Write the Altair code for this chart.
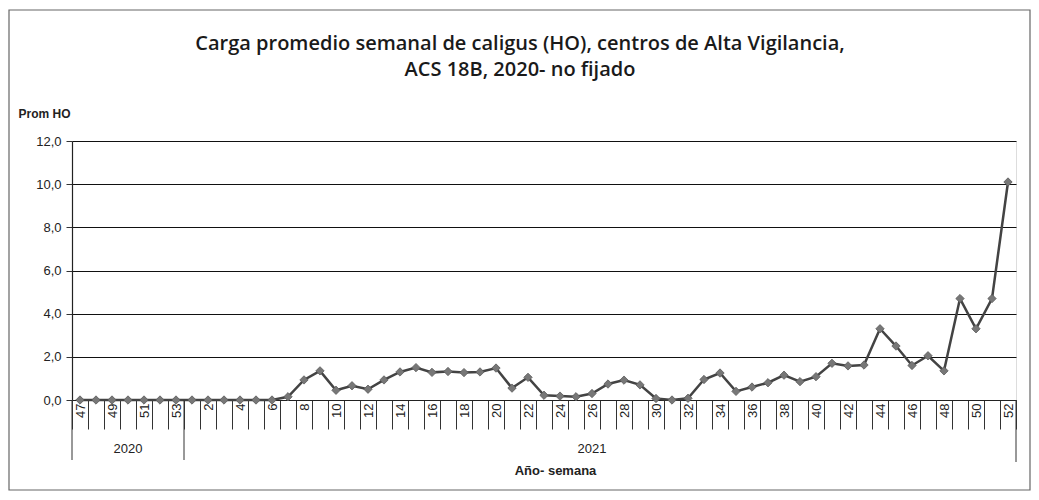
import altair as alt
import pandas as pd

years = ["2020"] * 7 + ["2021"] * 52
weeks = [47, 48, 49, 50, 51, 52, 53] + list(range(1, 53))
values = [
    0, 0, 0, 0, 0, 0, 0,                      # 2020 w47-53
    0, 0, 0, 0, 0, 0, 0.15, 0.93, 1.35, 0.45,  # 2021 w1-10
    0.66, 0.5, 0.93, 1.3, 1.5, 1.28, 1.32, 1.27, 1.3, 1.48,   # w11-20
    0.55, 1.05, 0.22, 0.18, 0.15, 0.3, 0.74, 0.92, 0.7, 0.07,  # w21-30
    0.0, 0.08, 0.95, 1.25, 0.4, 0.6, 0.8, 1.15, 0.85, 1.08,    # w31-40
    1.7, 1.58, 1.62, 3.3, 2.5, 1.6, 2.05, 1.35, 4.7, 3.3,      # w41-50
    4.7, 10.1,                                                  # w51-52
]
year_labels = ["2020", "2021"]
year_label_keys = ["2020-50", "2021-26"]
boundary_keys = ["2020-47", "2021-1"]
end_key = ["2021-52"]

keys = [f"{y}-{w}" for y, w in zip(years, weeks)]
df = pd.DataFrame({"key": keys, "year": years, "week": weeks, "value": values})

W, H = 944, 259
FONT = "Liberation Sans"

label_expr = (
    "(split(datum.value,'-')[0]=='2020' ? toNumber(split(datum.value,'-')[1]) % 2 == 1 "
    ": toNumber(split(datum.value,'-')[1]) % 2 == 0) ? split(datum.value,'-')[1] : ''"
)

xscale = alt.Scale(domain=keys, paddingInner=0, paddingOuter=0)
x_axis = alt.Axis(
    title="Año- semana",
    titleFont=FONT, titleFontSize=13, titleFontWeight="bold", titleColor="#222",
    titleX=483, titleY=64, titleAnchor="middle",
    labelExpr=label_expr, labelAngle=270, labelFont=FONT, labelFontSize=13,
    labelColor="#222", labelPadding=-26, labelAlign="right", labelBaseline="middle",
    tickBand="extent", tickSize=29, tickColor="#333", tickWidth=1,
    domainColor="#222", domainWidth=1.2, grid=False, labelOverlap=False,
)


def mk_x(band=None):
    if band is None:
        return alt.X("key:N", scale=xscale, sort=keys, axis=x_axis)
    return alt.X("key:N", scale=xscale, sort=keys, axis=x_axis, bandPosition=band)


y_enc = alt.Y(
    "value:Q",
    scale=alt.Scale(domain=[0, 12], nice=False),
    axis=alt.Axis(
        title="Prom HO", titleAngle=0, titleAlign="left", titleBaseline="middle",
        titleX=-54, titleY=-28, titleFont=FONT, titleFontSize=12, titleFontWeight="bold",
        titleColor="#222",
        values=[0, 2, 4, 6, 8, 10, 12],
        labelExpr="replace(format(datum.value, '.1f'), '.', ',')",
        labelFont=FONT, labelFontSize=13, labelColor="#222", labelPadding=5,
        tickSize=6, tickColor="#333", domainColor="#222", domainWidth=1.2,
        gridColor="#111", gridWidth=1.2, grid=True,
    ),
)

line = alt.Chart(df).mark_line(
    color="#434343", strokeWidth=2.5,
    point=alt.OverlayMarkDef(shape="diamond", size=70, filled=True, color="#777777",
                             stroke="#5a5a5a", strokeWidth=0.8),
).encode(x=mk_x(), y=y_enc)

bdf = pd.DataFrame({"key": boundary_keys})
edf = pd.DataFrame({"key": end_key})
ydf = pd.DataFrame({"key": year_label_keys, "label": year_labels})

year_rules = alt.Chart(bdf).mark_rule(color="#333", strokeWidth=1).encode(
    x=mk_x(0), y=alt.value(H), y2=alt.value(H + 60),
)
end_rule = alt.Chart(edf).mark_rule(color="#333", strokeWidth=1).encode(
    x=mk_x(1), y=alt.value(H), y2=alt.value(H + 62),
)
year_text = alt.Chart(ydf).mark_text(font=FONT, fontSize=13, color="#222").encode(
    x=mk_x(0.5), y=alt.value(H + 49), text="label:N",
)
frame = alt.Chart(bdf.head(1)).mark_rect(fill=None, stroke="#666", strokeWidth=1.2).encode(
    x=alt.value(-63), x2=alt.value(W + 14), y=alt.value(-131), y2=alt.value(H + 90),
)

chart = alt.layer(line, year_rules, end_rule, year_text, frame).properties(
    width=W, height=H,
    title=alt.TitleParams(
        text=["Carga promedio semanal de caligus (HO), centros de Alta Vigilancia,",
              "ACS 18B, 2020- no fijado"],
        font="Open Sans", fontSize=20, fontWeight=600, color="#1a1a1a",
        anchor="middle", dx=-24, offset=-71, lineHeight=26,
    ),
    autosize=alt.AutoSizeParams(type="none"),
    padding={"left": 64, "top": 133, "right": 15, "bottom": 92},
).configure_view(stroke=None).configure(background="white")

chart.save("out.html", embed_options={"renderer": "svg", "actions": False})
